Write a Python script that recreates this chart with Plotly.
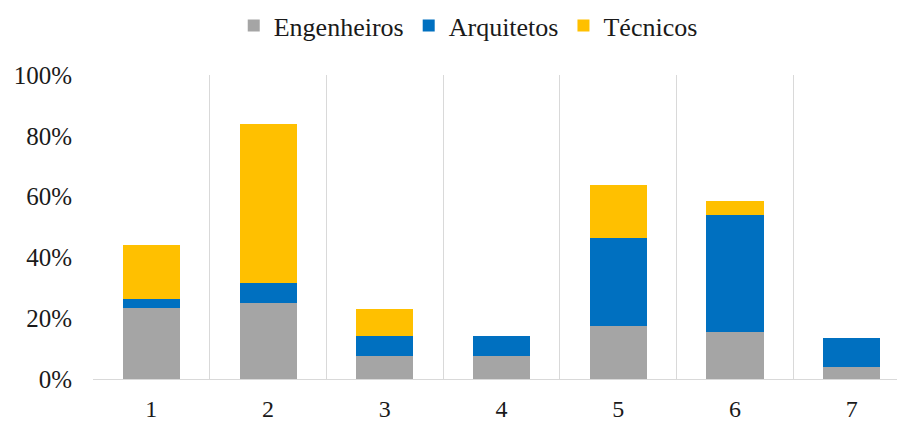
import plotly.graph_objects as go

categories = ["1", "2", "3", "4", "5", "6", "7"]
engenheiros = [0.233, 0.249, 0.077, 0.077, 0.174, 0.153, 0.040]
arquitetos = [0.030, 0.068, 0.064, 0.064, 0.290, 0.386, 0.096]
tecnicos = [0.177, 0.522, 0.089, 0.0, 0.173, 0.046, 0.0]
y_ticks = [0, 0.2, 0.4, 0.6, 0.8, 1.0]
y_tick_labels = ["0%", "20%", "40%", "60%", "80%", "100%"]

font_family = "Liberation Serif, Times New Roman, serif"

fig = go.Figure()
for name, vals, color in [
    ("Engenheiros", engenheiros, "#A5A5A5"),
    ("Arquitetos", arquitetos, "#0070C0"),
    ("Técnicos", tecnicos, "#FFC000"),
]:
    fig.add_trace(go.Bar(x=categories, y=vals, name=name, marker_color=color,
                         marker_line_width=0, width=0.49))

fig.update_layout(
    width=897, height=421,
    barmode="stack",
    plot_bgcolor="white", paper_bgcolor="white",
    margin=dict(l=93, r=0, t=75, b=42, autoexpand=False),
    font=dict(family=font_family, size=25, color="#1a1a1a"),
    showlegend=True,
    legend=dict(orientation="h", xref="container", x=0.522, xanchor="center",
                yref="container", y=0.995, yanchor="top",
                font=dict(size=26), traceorder="normal", itemwidth=30,
                tracegroupgap=0),
)
fig.update_xaxes(
    type="category", range=[-0.5, 6.387], tickson="boundaries",
    showgrid=True, gridcolor="#D9D9D9", gridwidth=1,
    ticks="", showline=False, ticklabelstandoff=13, automargin=False,
    tickfont=dict(size=24),
)
fig.update_yaxes(
    range=[0, 1], tickvals=y_ticks, ticktext=y_tick_labels,
    showgrid=False, zeroline=True, zerolinecolor="#D9D9D9", zerolinewidth=1,
    showline=False, ticks="", ticklabelstandoff=20, automargin=False,
    tickfont=dict(size=25),
)

fig.write_html("out.html",
               config={"displayModeBar": False},
               post_script="document.body.style.margin='0';document.body.style.overflow='hidden';")
